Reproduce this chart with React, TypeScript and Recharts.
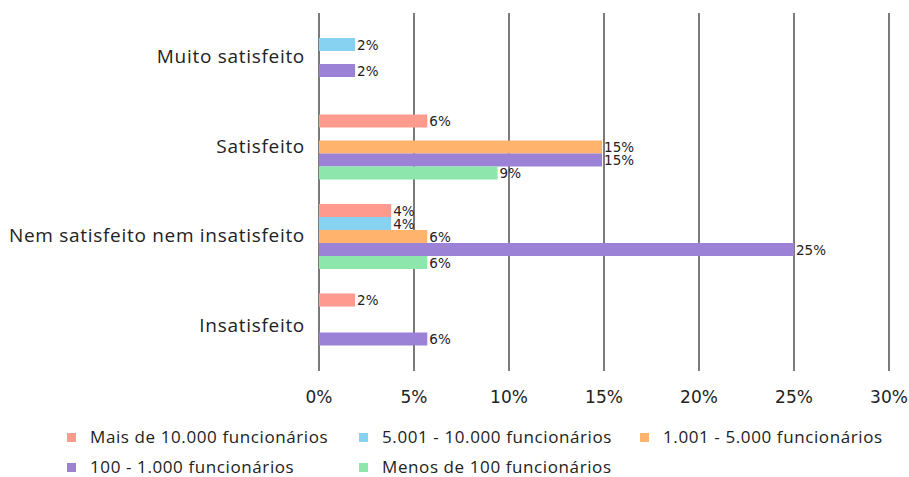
import { BarChart, Bar, XAxis, YAxis, CartesianGrid, LabelList } from 'recharts'

// survey answers, bottom labels show rounded percentages
const categories = ['Muito satisfeito', 'Satisfeito', 'Nem satisfeito nem insatisfeito', 'Insatisfeito']

const maisDe10000 = [null, 5.7, 3.8, 1.9]
const de5001a10000 = [1.9, null, 3.8, null]
const de1001a5000 = [null, 14.9, 5.7, null]
const de100a1000 = [1.9, 14.9, 25, 5.7]
const menosDe100 = [null, 9.4, 5.7, null]

const xTicks = [0, 5, 10, 15, 20, 25, 30]

const series = [
  { key: 'mais', name: 'Mais de 10.000 funcionários', color: '#FF9A8E', values: maisDe10000 },
  { key: 'de5001', name: '5.001 - 10.000 funcionários', color: '#87D2F0', values: de5001a10000 },
  { key: 'de1001', name: '1.001 - 5.000 funcionários', color: '#FFB36C', values: de1001a5000 },
  { key: 'de100', name: '100 - 1.000 funcionários', color: '#9B82D6', values: de100a1000 },
  { key: 'menos', name: 'Menos de 100 funcionários', color: '#8DE6AB', values: menosDe100 },
]

const data = categories.map((name, i) => {
  const row: Record<string, string | number | null> = { name }
  series.forEach((s) => {
    row[s.key] = s.values[i]
  })
  return row
})

const renderValue = (props: any) => {
  const { x, y, width, height, value } = props
  if (value == null) return null
  return (
    <text
      x={x + width + 2}
      y={y + height / 2}
      dominantBaseline="central"
      fontFamily="DejaVu Sans"
      fontSize={13.5}
      fill="#222"
    >
      {Math.round(value)}%
    </text>
  )
}

// legend is laid out on a fixed three-column grid
const legendCols = [67, 359, 640]

export default function App() {
  return (
    <div style={{ position: 'absolute', left: 0, top: 0, width: 909, height: 477, background: '#fff' }}>
      <BarChart
        width={909}
        height={477}
        data={data}
        layout="vertical"
        margin={{ top: 13, right: 20, left: 0, bottom: 77 }}
        barSize={13}
        barGap={0}
      >
        <XAxis
          type="number"
          domain={[0, 30]}
          ticks={xTicks}
          tickFormatter={(v: number) => `${v}%`}
          axisLine={false}
          tickLine={false}
          tickSize={6}
          tickMargin={14}
          height={29}
          tick={{ fontFamily: 'DejaVu Sans', fontSize: 17, fill: '#222' }}
        />
        <YAxis
          type="category"
          dataKey="name"
          width={319}
          axisLine={false}
          tickLine={false}
          tickSize={0}
          tickMargin={14}
          tick={{ fontFamily: 'Open Sans', fontSize: 19, fill: '#222', letterSpacing: 0.7, dy: -1 }}
        />
        {series.map((s) => (
          <Bar key={s.key} dataKey={s.key} name={s.name} fill={s.color} isAnimationActive={false}>
            <LabelList dataKey={s.key} content={renderValue} />
          </Bar>
        ))}
        <CartesianGrid horizontal={false} vertical stroke="#333" strokeWidth={1.3} />
      </BarChart>

      {series.map((s, i) => {
        const col = i % 3
        const row = Math.floor(i / 3)
        return (
          <div
            key={s.key}
            style={{
              position: 'absolute',
              left: legendCols[col],
              top: 427 + row * 30,
              height: 20,
              lineHeight: '20px',
              display: 'flex',
              alignItems: 'center',
              fontFamily: 'Open Sans',
              fontSize: 17,
              letterSpacing: 0.6,
              color: '#222',
              whiteSpace: 'nowrap',
            }}
          >
            <span style={{ width: 9, height: 9, background: s.color, marginRight: 14 }} />
            {s.name}
          </div>
        )
      })}
    </div>
  )
}
